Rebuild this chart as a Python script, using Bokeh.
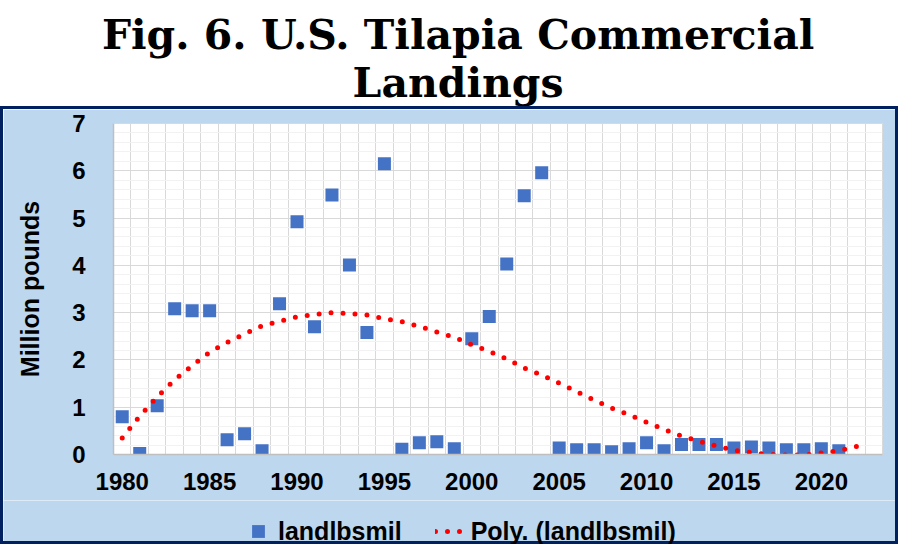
from bokeh.plotting import figure
from bokeh.models import Range1d, FixedTicker, Label, Legend, LegendItem
from bokeh.layouts import column
from bokeh.embed import file_html
from bokeh.resources import INLINE

# ---- data ----
years = list(range(1980, 2022))
landlbsmil = [0.80, 0.02, 1.03, 3.08, 3.04, 3.04, 0.31, 0.44, 0.08, 3.19,
              4.92, 2.70, 5.49, 4.01, 2.58, 6.15, 0.11, 0.25, 0.27, 0.12,
              2.45, 2.92, 4.03, 5.47, 5.96, 0.14, 0.10, 0.10, 0.06, 0.12,
              0.25, 0.08, 0.21, 0.21, 0.21, 0.14, 0.16, 0.14, 0.10, 0.10,
              0.12, 0.08]

trend_years = list(range(1980, 2023)) + [2022.5]
trend_vals = [0.35, 0.81, 1.22, 1.58, 1.88, 2.16, 2.37, 2.55, 2.72, 2.82,
              2.91, 2.96, 3.00, 2.98, 2.95, 2.87, 2.81, 2.71, 2.59, 2.48,
              2.32, 2.18, 2.02, 1.83, 1.68, 1.51, 1.33, 1.15, 0.98, 0.84,
              0.68, 0.53, 0.39, 0.28, 0.18, 0.09, 0.04, 0.00, -0.01, -0.01,
              0.03, 0.08, 0.17, 0.23]

x_ticks = [1980, 1985, 1990, 1995, 2000, 2005, 2010, 2015, 2020]
y_ticks = [0, 1, 2, 3, 4, 5, 6, 7]

title_line1 = "Fig. 6. U.S. Tilapia Commercial"
title_line2 = "Landings"
y_label = "Million pounds"
series_name = "landlbsmil"
trend_name = "Poly. (landlbsmil)"

BLUE_BG = "#BDD7EE"
NAVY = "#002060"
SQ = "#4472C4"
RED = "#FF0000"
GRID = "#D9D9D9"
FONT = "Liberation Sans"
NB = "3px solid " + NAVY


def no_align(fig):
    if "frame_align" in fig.properties():
        fig.frame_align = False


# ---- title band (white) ----
t = figure(width=898, height=106, output_backend="svg", toolbar_location=None,
           x_range=Range1d(0, 898), y_range=Range1d(0, 106),
           min_border_left=0, min_border_right=0, min_border_top=0,
           min_border_bottom=0, x_axis_type=None, y_axis_type=None)
no_align(t)
t.title.visible = False
t.grid.visible = False
t.outline_line_color = None
t.background_fill_color = "white"
t.border_fill_color = "white"
for txt, yv in ((title_line1, 72), (title_line2, 24)):
    t.add_layout(Label(x=457.6, y=yv, text=txt, text_align="center",
                       text_baseline="alphabetic", text_font="DejaVu Serif",
                       text_font_style="bold", text_font_size="41px",
                       text_color="black"))

# ---- chart ----
p = figure(width=898, height=394, output_backend="svg", toolbar_location=None,
           x_range=Range1d(1979.5, 2023.5), y_range=Range1d(0, 7),
           min_border_left=110, min_border_right=19,
           min_border_top=14, min_border_bottom=49)
p.styles = {"border-top": NB, "border-left": NB, "border-right": NB}
p.title.visible = False
p.border_fill_color = BLUE_BG
p.background_fill_color = "white"
p.outline_line_color = GRID

p.xgrid.ticker = FixedTicker(ticks=[1979.5 + k for k in range(45)])
p.xgrid.grid_line_color = GRID
p.ygrid.ticker = FixedTicker(ticks=y_ticks,
                             minor_ticks=[round(0.2 * k, 2) for k in range(36)])
p.ygrid.grid_line_color = GRID
p.ygrid.minor_grid_line_color = "#F2F2F2"

p.xaxis.ticker = FixedTicker(ticks=x_ticks)
p.yaxis.ticker = FixedTicker(ticks=y_ticks)
for ax in (p.xaxis[0], p.yaxis[0]):
    ax.axis_line_color = "#BFBFBF"
    ax.axis_line_width = 1.5
    ax.major_tick_line_color = None
    ax.minor_tick_line_color = None
    ax.major_label_text_font = FONT
    ax.major_label_text_font_style = "bold"
    ax.major_label_text_font_size = "24px"
    ax.major_label_text_color = "black"
p.xaxis.major_label_standoff = 12
p.yaxis.major_label_standoff = 22
p.yaxis.axis_label = y_label
p.yaxis.axis_label_text_font = FONT
p.yaxis.axis_label_text_font_style = "bold"
p.yaxis.axis_label_text_font_size = "25px"
p.yaxis.axis_label_text_color = "black"
p.yaxis.axis_label_standoff = 25

p.scatter(years, landlbsmil, marker="square", size=13, fill_color=SQ,
          line_color=None)
p.line(trend_years, trend_vals, line_color=RED, line_width=5,
       line_dash="0 12", line_cap="round")

# ---- legend band ----
lf = figure(width=898, height=44, output_backend="svg", toolbar_location=None,
            x_range=Range1d(0, 1), y_range=Range1d(0, 1),
            min_border_left=0, min_border_right=0, min_border_top=0,
            min_border_bottom=0, x_axis_type=None, y_axis_type=None)
no_align(lf)
lf.styles = {"border-bottom": NB, "border-left": NB, "border-right": NB}
lf.title.visible = False
lf.grid.visible = False
lf.outline_line_color = None
lf.background_fill_color = BLUE_BG
lf.border_fill_color = BLUE_BG
nan = float("nan")
r1 = lf.scatter(x=[nan], y=[nan], marker="square", size=13, fill_color=SQ,
                line_color=None)
r2 = lf.line(x=[nan, nan], y=[nan, nan], line_color=RED, line_width=5,
             line_dash="0 12", line_cap="round")
lg = Legend(items=[LegendItem(label=series_name, renderers=[r1]),
                   LegendItem(label=trend_name, renderers=[r2])],
            location=(239, -3), orientation="horizontal",
            background_fill_alpha=0, border_line_color=None,
            padding=0, margin=0, spacing=33, label_standoff=4,
            glyph_width=32, glyph_height=32,
            label_text_font=FONT, label_text_font_style="bold",
            label_text_font_size="25px", label_text_color="black")
lf.add_layout(lg)

layout = column(t, p, lf, spacing=0)
open("out.html", "w").write(file_html(layout, INLINE))
